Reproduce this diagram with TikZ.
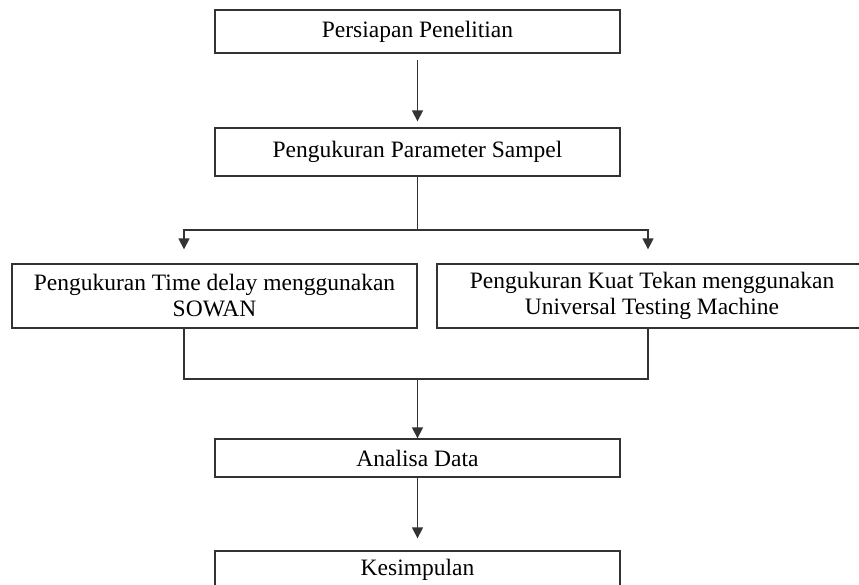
\documentclass[tikz,border=0pt]{standalone}
\usepackage{fontspec}
\setmainfont{Liberation Serif}
\usepackage{tikz}
\usetikzlibrary{arrows.meta, calc}

\begin{document}
\begin{tikzpicture}[
    x=1pt, y=-1pt,
    stepbox/.style={draw=black!80, line width=1.3pt, rectangle, fill=white, align=center,
                    font=\fontsize{23.5}{26}\selectfont, inner sep=0pt},
    flowline/.style={draw=black!80, line width=1.4pt},
    flowarrow/.style={flowline, -{Triangle[length=11pt, width=11pt]}}
]
    \useasboundingbox (0,0) rectangle (859,585);
    \clip (0,0) rectangle (859,585);
    \fill[white] (0,0) rectangle (859,585);

    % ========== Persiapan ==========
    \node[stepbox, minimum width=405pt, minimum height=43pt] (persiapan) at (417.5, 31.5)
        {Persiapan Penelitian};

    % ========== Parameter Sampel ==========
    \node[stepbox, minimum width=405pt, minimum height=48pt] (parameter) at (417.5, 152)
        {Pengukuran Parameter Sampel};

    % ========== Time delay / Kuat Tekan ==========
    \node[stepbox, minimum width=405pt, minimum height=64pt] (timedelay) at (214.5, 296)
        {Pengukuran Time delay menggunakan\\SOWAN};
    \node[stepbox, minimum width=430pt, minimum height=64pt] (kuattekan) at (652, 296)
        {Pengukuran Kuat Tekan menggunakan\\Universal Testing Machine};

    % ========== Analisa ==========
    \node[stepbox, minimum width=405pt, minimum height=38pt] (analisa) at (417.5, 458)
        {Analisa Data};

    % ========== Kesimpulan ==========
    \node[stepbox, minimum width=405pt, minimum height=38pt] (kesimpulan) at (417.5, 570)
        {Kesimpulan};

    % --- Connectors ---
    \coordinate (split) at (417.5, 230);
    \coordinate (join)  at (417.5, 379);

    \draw[flowarrow, shorten <=6pt, shorten >=6pt] (persiapan.south) -- (parameter.north);

    \draw[flowline] (parameter.south) -- (split);
    \draw[flowarrow, shorten >=14pt] (split) -| ([xshift=-30.5pt]timedelay.north);
    \draw[flowarrow, shorten >=14pt] (split) -| ([xshift=-4pt]kuattekan.north);

    \draw[flowline] ([xshift=-30.5pt]timedelay.south) |- (join)
        -| ([xshift=-4pt]kuattekan.south);

    \draw[flowarrow] (join) -- (analisa.north);
    \draw[flowarrow, shorten >=12pt] (analisa.south) -- (kesimpulan.north);
\end{tikzpicture}
\end{document}
